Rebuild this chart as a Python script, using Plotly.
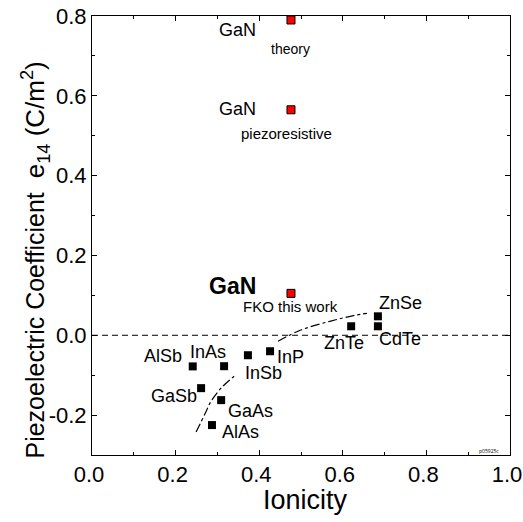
import plotly.graph_objects as go

# Data
black_names = ["ZnSe", "CdTe", "ZnTe", "InP", "InSb", "InAs", "AlSb", "GaSb", "GaAs", "AlAs"]
black_x = [0.684, 0.684, 0.62, 0.426, 0.373, 0.316, 0.241, 0.261, 0.309, 0.287]
black_y = [0.0475, 0.0225, 0.0225, -0.04, -0.05, -0.0775, -0.078, -0.1325, -0.1625, -0.225]

red_x = [0.476, 0.476, 0.476]
red_y = [0.79, 0.565, 0.105]

curve1_x = [0.249, 0.270, 0.285, 0.311, 0.340]
curve1_y = [-0.2425, -0.1975, -0.165, -0.13, -0.1025]
curve2_x = [0.445, 0.498, 0.569, 0.629, 0.658]
curve2_y = [-0.015, 0.0125, 0.035, 0.05, 0.055]

x_ticks = [0.0, 0.2, 0.4, 0.6, 0.8, 1.0]
y_ticks = [-0.2, 0.0, 0.2, 0.4, 0.6, 0.8]

# labels: (text, x, y, size)
labels = [
    ("GaN", 0.349, 0.765, 18), ("theory", 0.475, 0.7175, 14),
    ("GaN", 0.349, 0.5675, 18), ("piezoresistive", 0.466, 0.505, 15),
    ("<b>GaN</b>", 0.337, 0.1225, 23), ("FKO this work", 0.475, 0.071, 15),
    ("ZnSe", 0.737, 0.081, 18), ("CdTe", 0.736, -0.01, 18),
    ("ZnTe", 0.602, -0.02, 18), ("InP", 0.475, -0.055, 18),
    ("InSb", 0.41, -0.095, 18), ("InAs", 0.278, -0.041, 18),
    ("AlSb", 0.169, -0.0525, 18), ("GaSb", 0.195, -0.1525, 18),
    ("GaAs", 0.378, -0.189, 18), ("AlAs", 0.355, -0.2425, 18),
]

fig = go.Figure()
fig.add_trace(go.Scatter(x=curve1_x, y=curve1_y, mode="lines", line=dict(color="black", width=1.2, dash="dashdot", shape="spline"), showlegend=False))
fig.add_trace(go.Scatter(x=curve2_x, y=curve2_y, mode="lines", line=dict(color="black", width=1.2, dash="dashdot", shape="spline"), showlegend=False))
fig.add_trace(go.Scatter(x=black_x, y=black_y, mode="markers", marker=dict(symbol="square", size=8, color="black"), showlegend=False))
fig.add_trace(go.Scatter(x=red_x, y=red_y, mode="markers", marker=dict(symbol="square", size=8, color="red", line=dict(color="black", width=1)), showlegend=False))

fig.add_shape(type="line", xref="paper", yref="y", x0=0, x1=1, y0=0, y1=0, line=dict(color="black", width=1, dash="6px,4px"))

lab_font = "Arial, Liberation Sans"
for t, x, y, s in labels:
    fig.add_annotation(x=x, y=y, text=t, showarrow=False, font=dict(family=lab_font, size=s, color="black"))

fig.add_annotation(x=0.95, y=-0.29, text="p05925c", showarrow=False, font=dict(size=5, color="black"))

nb = "\u00a0"
fig.add_annotation(xref="paper", yref="paper", x=0, xshift=-57, y=0.443, xanchor="center", yanchor="middle",
                   textangle=-90,
                   text="Piezoelectric Coefficient" + nb * 2
                        + '<span style="font-size:26px">e<sub>14</sub> (C/m<sup>2</sup>)</span>',
                   showarrow=False, font=dict(family=lab_font, size=25, color="black"))
fig.add_annotation(xref="paper", yref="paper", x=0.5, xshift=4, y=-0.102, xanchor="center", yanchor="middle",
                   text="Ionicity", showarrow=False, font=dict(family=lab_font, size=27, color="black"))

tickfont = dict(family="Liberation Sans Narrow, Arial Narrow, Liberation Sans", size=22, color="black")
axis_common = dict(ticks="inside", ticklen=5, tickcolor="black", tickwidth=1,
                   minor=dict(dtick=0.1, ticks="inside", ticklen=3, tickcolor="black"),
                   showline=True, linecolor="black", linewidth=1, mirror="ticks",
                   showgrid=False, zeroline=False, tickfont=tickfont, ticklabeloverflow="allow",
                   automargin=False)
fig.update_xaxes(range=[0, 1], tickvals=x_ticks, ticktext=[f"{v:.1f}" for v in x_ticks],
                 ticklabelshift=-3, **axis_common)
fig.update_yaxes(range=[-0.3, 0.8], tickvals=y_ticks, ticktext=[f"{v:.1f}" for v in y_ticks], **axis_common)

fig.update_layout(width=523, height=522, margin=dict(l=92, r=13, t=16, b=67),
                  plot_bgcolor="white", paper_bgcolor="white")
fig.write_html("out.html")
